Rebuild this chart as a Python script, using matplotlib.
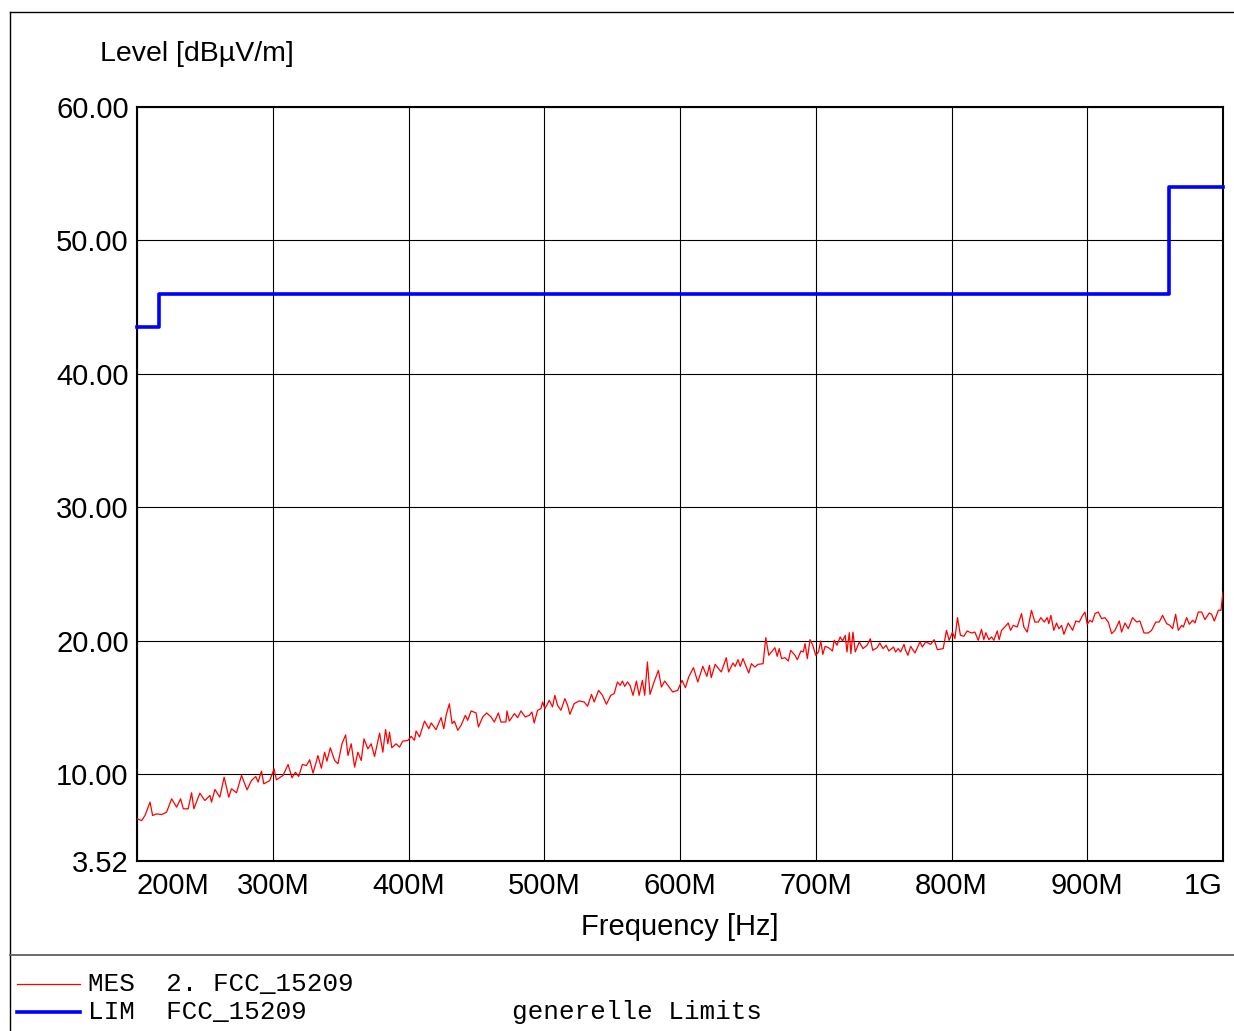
import matplotlib
matplotlib.use("Agg")
import matplotlib.pyplot as plt
from matplotlib.lines import Line2D

# measured level (MES), frequency in MHz
mes_freq = [
    200.2, 203.4, 205.9, 209.6, 211.5, 214.5, 218.1, 221.8, 225.5, 229.2,
    232.1, 234.1, 237.7, 240.2, 241.9, 246.3, 250.0, 253.7, 254.9, 257.4,
    261.0, 264.2, 267.6, 269.6, 273.3, 277.0, 281.1, 284.3, 287.5, 289.2,
    291.7, 293.4, 297.8, 301.0, 302.7, 307.6, 311.3, 314.2, 316.7, 319.1,
    321.8, 324.8, 327.2, 329.7, 333.3, 335.8, 338.2, 339.9, 342.4, 345.6,
    348.0, 351.0, 353.7, 355.4, 357.8, 360.3, 362.7, 365.2, 367.2, 370.1,
    372.5, 375.0, 378.7, 381.1, 383.1, 384.8, 386.0, 387.7, 390.9, 393.4,
    395.8, 399.5,
    402.0, 404.4, 405.6, 408.1, 411.8, 415.0, 416.7, 420.3, 424.0, 426.0,
    427.7, 430.1, 432.1, 433.8, 436.3, 438.7, 441.9, 443.6, 446.1, 449.8,
    451.5, 454.7, 457.6, 460.8, 463.2, 466.2, 468.1, 471.8, 472.5, 474.3,
    478.0, 480.4, 482.8, 486.0, 489.0, 490.9, 492.6, 495.1, 497.5, 498.8,
    500.5, 503.7, 506.1, 507.8, 509.8, 512.3, 515.2, 517.2, 518.9, 522.1,
    525.7, 529.4, 531.9, 534.8, 536.8, 540.0, 542.9, 545.8, 549.0, 551.5,
    553.9, 555.9, 557.6, 559.3, 561.3, 563.2, 565.4, 567.9, 569.9, 572.3,
    574.0, 576.0, 577.9, 580.9, 584.1, 586.3, 588.7,
    592.0, 594.6, 598.3, 601.5, 604.0, 606.4, 609.9, 613.1, 616.8, 619.8,
    621.7, 623.0, 625.9, 630.4, 634.1, 635.8, 639.0, 640.7, 642.7, 644.4,
    646.4, 650.6, 652.6, 655.1, 657.5, 661.2, 663.2, 665.4, 667.4, 669.9,
    671.6, 673.1, 674.8, 677.3, 679.8, 681.5, 684.7, 686.4, 689.1, 690.9,
    692.1, 693.8, 695.8, 697.8, 700.0, 702.0, 703.7, 705.2, 706.9, 709.4,
    712.3, 713.6, 715.6, 718.0, 719.8, 721.7, 723.0, 724.7, 725.9, 727.4,
    729.1, 732.1, 734.8, 737.8, 740.2, 742.0, 745.2, 747.2, 749.6, 751.9,
    753.8, 757.3, 758.8, 760.7, 762.5, 765.0, 766.2, 767.9, 769.9, 773.1,
    776.8, 778.5, 781.0, 784.7, 787.2, 789.6,
    793.9, 796.3, 798.3, 800.7, 802.5, 804.4, 806.6, 809.1, 811.5, 814.7,
    817.2, 819.7, 822.1, 823.8, 825.3, 827.5, 829.5, 831.2, 833.7, 835.1,
    836.9, 839.3, 841.8, 843.5, 845.5, 848.4, 851.6, 853.3, 855.8, 858.9,
    861.4, 863.9, 865.8, 868.3, 870.5, 871.7, 873.2, 875.4, 877.4, 879.1,
    881.1, 882.8, 886.0, 889.2, 891.6, 894.1, 896.6, 898.3, 900.0, 902.0,
    903.7, 905.7, 908.1, 910.6, 913.0, 915.5, 918.0, 920.4, 923.6, 925.3,
    927.8, 930.2, 933.4, 936.4, 938.8, 941.8, 944.9, 947.4, 950.5, 953.0,
    955.5, 958.5, 960.9, 962.9, 965.1, 967.1, 969.5, 970.8, 973.2, 975.2,
    977.6, 979.4, 981.8, 984.3, 986.7, 989.9, 991.6, 993.6, 996.6, 998.5,
    1000.0,
]
mes_level = [
    6.68, 6.55, 6.93, 7.93, 6.93, 7.05, 7.0, 7.18, 8.18, 7.55,
    8.18, 7.43, 7.43, 8.63, 7.43, 8.6, 8.05, 8.43, 7.93, 8.88,
    8.3, 9.8, 8.3, 8.93, 8.63, 9.93, 8.85, 9.55, 9.85, 9.43,
    10.25, 9.3, 9.55, 10.42, 9.6, 9.93, 10.75, 9.75, 10.17, 9.85,
    10.75, 10.67, 11.1, 10.1, 11.42, 10.47, 11.67, 11.0, 12.0, 11.05,
    10.8, 12.3, 12.97, 11.42, 12.3, 10.55, 11.67, 11.05, 12.67, 11.92,
    12.3, 11.35, 13.1, 11.67, 13.37, 12.3, 13.17, 12.0, 12.3, 12.05,
    12.5, 12.55,
    12.86, 12.56, 13.26, 12.81, 14.0, 13.43, 13.86, 13.36, 14.26, 13.43,
    14.43, 15.3, 13.81, 14.0, 13.31, 13.68, 14.43, 14.06, 14.76, 14.61,
    13.56, 14.31, 14.61, 14.31, 13.93, 14.61, 13.93, 13.93, 14.76, 14.0,
    14.56, 14.26, 14.76, 14.31, 14.43, 14.68, 13.86, 14.81, 14.93, 15.43,
    14.93, 15.56, 15.06, 15.93, 15.18, 14.81, 15.68, 15.18, 14.51, 15.31,
    15.51, 15.43, 15.11, 16.0, 15.43, 16.3, 15.93, 15.26, 15.93, 16.06,
    16.93, 16.68, 17.0, 16.6, 16.93, 16.68, 15.93, 17.0, 15.93, 17.05,
    15.93, 18.43, 16.0, 16.93, 17.8, 16.55, 17.0,
    16.55, 16.18, 16.3, 17.05, 16.5, 17.3, 18.0, 16.93, 18.1, 17.35,
    18.18, 17.25, 18.25, 17.68, 18.75, 17.68, 18.35, 18.1, 18.6, 18.1,
    18.68, 17.6, 18.3, 18.05, 18.25, 18.3, 20.25, 18.93, 19.18, 19.5,
    18.85, 19.43, 18.68, 18.75, 18.5, 19.3, 18.93, 18.6, 19.25, 19.18,
    19.8, 18.68, 20.1, 19.68, 18.93, 19.18, 20.0, 19.0, 19.6, 19.5,
    19.25, 20.05, 19.68, 20.3, 20.0, 20.42, 19.18, 20.62, 19.05, 20.67,
    19.18, 19.93, 19.43, 19.68, 20.17, 19.3, 19.5, 19.85, 19.43, 19.68,
    19.25, 19.55, 19.18, 19.43, 19.18, 19.75, 19.3, 18.93, 19.6, 19.1,
    19.93, 19.55, 19.93, 19.75, 20.1, 19.35,
    19.43, 20.8, 20.05, 20.67, 20.17, 21.75, 20.42, 20.35, 20.75, 20.6,
    20.67, 20.05, 20.87, 20.1, 20.62, 20.1, 20.3, 20.05, 20.75, 20.1,
    20.8, 21.05, 21.35, 20.8, 21.17, 21.05, 22.05, 21.05, 20.67, 22.3,
    21.42, 21.42, 21.75, 21.42, 21.75, 21.3, 21.92, 20.8, 21.35, 20.92,
    21.17, 20.5, 21.35, 20.8, 21.5, 21.42, 21.92, 22.17, 21.25, 21.55,
    21.42, 22.05, 22.17, 21.67, 21.75, 21.42, 20.55, 20.8, 21.5, 20.67,
    21.35, 20.92, 21.75, 21.42, 21.5, 20.6, 20.6, 20.8, 21.42, 21.42,
    21.92, 21.3, 21.17, 20.92, 22.0, 20.8, 21.17, 21.05, 21.75, 21.25,
    21.55, 21.35, 22.17, 22.17, 21.6, 22.1, 22.0, 21.5, 22.3, 22.3,
    23.67,
]

# FCC 15.209 limit (LIM), step edges in MHz
lim_edges = [200, 216, 960, 1000]
lim_levels = [43.5, 46.0, 54.0]

x_ticks = [200, 300, 400, 500, 600, 700, 800, 900, 1000]
x_labels = ["200M", "300M", "400M", "500M", "600M", "700M", "800M", "900M", "1G"]
y_ticks = [3.52, 10, 20, 30, 40, 50, 60]

sans = "Liberation Sans"
mono = "Liberation Mono"

fig = plt.figure(figsize=(12.34, 10.31), dpi=100)
W, H = 1234, 1031

ax = fig.add_axes([137 / W, 1 - 861 / H, 1086 / W, 754 / H])
ax.set_xlim(200, 1000)
ax.set_ylim(3.52, 60)

ax.plot(mes_freq, mes_level, color="#ff0000", lw=0.9, zorder=3)
ax.step(lim_edges, lim_levels + [lim_levels[-1]], where="post",
        color="#0000ff", lw=2.6, zorder=4, clip_on=False)

ax.set_xticks(x_ticks)
ax.set_xticklabels(x_labels, fontsize=21, family=sans)
ax.set_yticks(y_ticks)
ax.set_yticklabels(["%.2f" % v for v in y_ticks], fontsize=21, family=sans)
xl = ax.get_xticklabels()
xl[0].set_ha("left")
xl[-1].set_ha("right")
ax.tick_params(length=0, pad=6)
ax.tick_params(axis="x", pad=8)
ax.grid(True, color="black", lw=0.8)
for s in ax.spines.values():
    s.set_linewidth(1.5)

ax.set_xlabel("Frequency [Hz]", fontsize=21, family=sans, labelpad=9)
fig.text(100 / W, 1 - 54 / H, "Level [dBµV/m]", fontsize=20.5, family=sans,
         ha="left", va="center")

# outer frame and legend box
fig.add_artist(Line2D([10 / W, 1], [1 - 12 / H, 1 - 12 / H], color="black", lw=1))
fig.add_artist(Line2D([10 / W, 10 / W], [1 - 12 / H, 0], color="black", lw=1))
fig.add_artist(Line2D([10 / W, 1], [1 - 955 / H, 1 - 955 / H], color="#606060", lw=1.3))

fig.add_artist(Line2D([17 / W, 80 / W], [1 - 984 / H, 1 - 984 / H], color="#ff0000", lw=0.9))
fig.add_artist(Line2D([17 / W, 80 / W], [1 - 1012 / H, 1 - 1012 / H], color="#0000ff", lw=2.6))
fig.text(88 / W, 1 - 984 / H, "MES  2. FCC_15209", fontsize=18.7, family=mono,
         ha="left", va="center")
fig.text(88 / W, 1 - 1012 / H, "LIM  FCC_15209", fontsize=18.7, family=mono,
         ha="left", va="center")
fig.text(512 / W, 1 - 1012 / H, "generelle Limits", fontsize=18.7, family=mono,
         ha="left", va="center")

fig.savefig("out.png", dpi=100)
